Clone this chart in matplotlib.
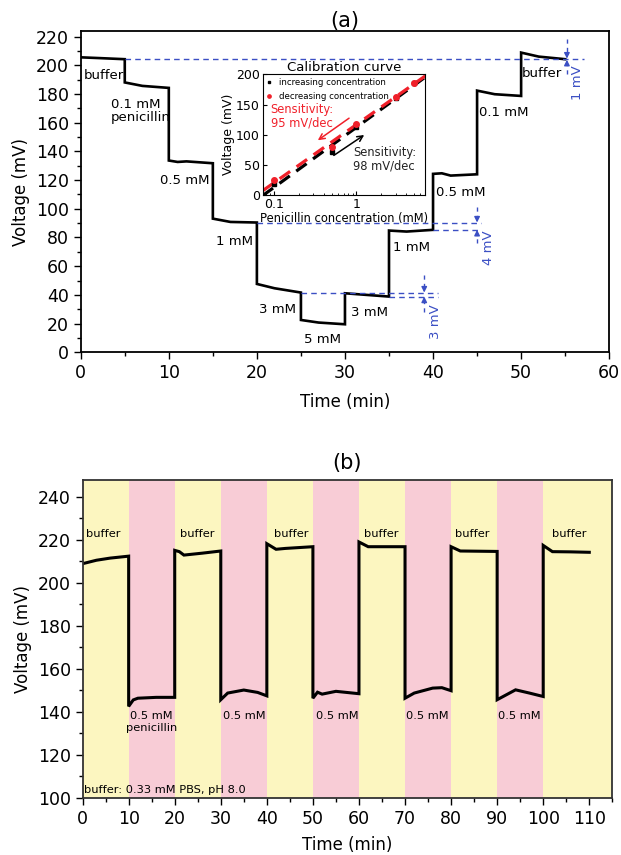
import numpy as np
import matplotlib
matplotlib.use("Agg")
import matplotlib.pyplot as plt
from matplotlib.ticker import MultipleLocator, FixedLocator, LogLocator, NullFormatter

plt.rcParams['font.family'] = ['DejaVu Sans']

# ---- panel (a): stepwise response ----
time_a = [0, 2, 5, 5, 7, 10, 10, 11, 12, 15, 15, 17, 20, 20, 22, 25, 25, 27, 30,
          30, 35, 35, 37, 40, 40, 41, 42, 45, 45, 47, 50, 50, 52, 55]
volt_a = [205.5, 205, 204.2, 188, 185.6, 184.2, 133.6, 132.6, 133, 131.7, 93.1, 90.8, 90.4,
          47.6, 44.6, 41.6, 22.5, 20.7, 19.5, 41.1, 38.8, 84.8, 84.1, 85.3, 124.3, 124.7,
          123.1, 124, 182.3, 179.8, 178.6, 208.8, 206, 204.2]

step_labels = ["buffer", "0.1 mM\npenicillin", "0.5 mM", "1 mM", "3 mM", "5 mM",
               "3 mM", "1 mM", "0.5 mM", "0.1 mM", "buffer"]
label_x = [0.3, 3.4, 11.8, 17.5, 22.3, 27.5, 32.8, 37.6, 43.1, 48.0, 52.4]
label_y = [192.5, 168, 120, 77, 29.5, 8.6, 28, 73, 111.5, 167, 194]
label_ha = ["left", "left"] + ["center"] * 9

# drift reference levels: (level, x start, x end)
ref_levels = [204.2, 90.4, 85.3, 41.6, 38.8]
ref_start = [5, 20, 40, 25, 35]
ref_end = [57.1, 45.4, 45.4, 40.6, 40.6]

# drift markers: x position, upper line, lower line, arrow tails, label
drift_x = [55.2, 45.0, 39.0]
drift_hi = [204.6, 90.4, 41.6]
drift_lo = [203.8, 85.3, 38.8]
drift_top = [218, 101, 54]
drift_bot = [194, 76, 28]
drift_text = ["1 mV", "4 mV", "3 mV"]
drift_text_x = [56.4, 46.3, 40.3]
drift_text_y = [188, 73, 21]

# ---- inset: calibration curve ----
conc = [0.1, 0.5, 1, 3, 5]
v_increasing = [18, 72, 113, 160, 185]
v_decreasing = [24, 80, 118, 163, 186]

# ---- panel (b): repeated exposure ----
time_b = [0, 3, 6, 10, 10, 11, 12, 16, 20, 20, 21, 22, 26, 30, 30, 31.5, 35, 38, 40,
          40, 42, 44, 50, 50, 51, 52, 55, 60, 60, 62, 70, 70, 72, 76, 78, 80,
          80, 82, 90, 90, 92, 94, 97, 100, 100, 102, 106, 110]
volt_b = [208.9, 210.5, 211.5, 212.4, 142.5, 145.5, 146.3, 146.7, 146.7, 215.1, 214.5,
          212.9, 213.8, 214.8, 145.6, 148.7, 150.1, 149, 147.4, 218.2, 215.6, 216, 216.8,
          146.3, 149.1, 148.2, 149.5, 148.4, 219, 216.8, 216.8, 146.3, 148.7, 151, 151.2,
          149.8, 216.8, 214.8, 214.6, 145.6, 147.9, 150.2, 148.7, 147.1, 217.4, 214.5,
          214.4, 214.2]
phase_edges = [0, 10, 20, 30, 40, 50, 60, 70, 80, 90, 100, 115]
buffer_x = [4.5, 25, 45.4, 64.8, 84.7, 105.6]
pen_x = [15, 35.1, 55.3, 74.8, 94.8]

blue = '#3b4fc4'
yellow = '#fcf6c0'
pink = '#f8ccd6'

fig = plt.figure(figsize=(6.21, 8.55), dpi=100)

# ================= (a) =================
ax = fig.add_axes([0.130, 0.588, 0.851, 0.376])
ax.plot(time_a, volt_a, color='black', lw=1.9, solid_joinstyle='miter')
for lev, xs, xe in zip(ref_levels, ref_start, ref_end):
    ax.plot([xs, xe], [lev, lev], color=blue, lw=1.0, ls=(0, (4, 3)))
for x, hi, lo, top, bot in zip(drift_x, drift_hi, drift_lo, drift_top, drift_bot):
    ax.plot([x, x], [top, hi + 3], color=blue, lw=1.0, ls=(0, (3, 3)))
    ax.plot([x, x], [bot, lo - 3], color=blue, lw=1.0, ls=(0, (3, 3)))
    ax.annotate('', xy=(x, hi), xytext=(x, hi + 4),
                arrowprops=dict(arrowstyle='-|>', color=blue, lw=1.0,
                                shrinkA=0, shrinkB=0, mutation_scale=8))
    ax.annotate('', xy=(x, lo), xytext=(x, lo - 4),
                arrowprops=dict(arrowstyle='-|>', color=blue, lw=1.0,
                                shrinkA=0, shrinkB=0, mutation_scale=8))
for t, x, y in zip(drift_text, drift_text_x, drift_text_y):
    ax.text(x, y, t, color=blue, rotation=90, fontsize=9.5, ha='center', va='center')
for s, x, y, ha in zip(step_labels, label_x, label_y, label_ha):
    ax.text(x, y, s, fontsize=9.5, ha=ha, va='center', linespacing=1.05)

ax.set_xlim(0, 60)
ax.set_ylim(0, 224)
ax.xaxis.set_major_locator(MultipleLocator(10))
ax.xaxis.set_minor_locator(MultipleLocator(5))
ax.yaxis.set_major_locator(MultipleLocator(20))
ax.yaxis.set_minor_locator(MultipleLocator(10))
ax.tick_params(which='both', direction='out', labelsize=12.5, width=1.0)
ax.tick_params(which='major', length=5)
ax.tick_params(which='minor', length=3)
for sp in ax.spines.values():
    sp.set_linewidth(1.3)
ax.set_xlabel("Time (min)", fontsize=12, labelpad=8)
ax.set_ylabel("Voltage (mV)", fontsize=12, labelpad=4)
ax.set_title("(a)", fontsize=15, pad=3)

# inset
axi = fig.add_axes([0.423, 0.772, 0.262, 0.141])
logc = np.log10(conc)
k_inc, b_inc = np.polyfit(logc, v_increasing, 1)
k_dec, b_dec = np.polyfit(logc, v_decreasing, 1)
xfit = np.array([0.073, 6.9])
axi.plot(xfit, k_inc * np.log10(xfit) + b_inc, color='black', lw=2.3, ls=(0, (4, 2.5)))
axi.plot(xfit, k_dec * np.log10(xfit) + b_dec, color='#f0202a', lw=2.3, ls=(0, (4, 2.5)))
axi.plot(conc, v_increasing, 's', color='black', ms=3.5, label='increasing concentration')
axi.plot(conc, v_decreasing, 'o', color='#f0202a', ms=4, label='decreasing concentration')
axi.set_xscale('log')
axi.set_xlim(0.073, 6.9)
axi.set_ylim(0, 200)
axi.xaxis.set_major_locator(FixedLocator([0.1, 1]))
axi.set_xticklabels(['0.1', '1'])
axi.xaxis.set_minor_locator(LogLocator(subs=np.arange(2, 10)))
axi.xaxis.set_minor_formatter(NullFormatter())
axi.yaxis.set_major_locator(MultipleLocator(50))
axi.tick_params(which='both', direction='in', labelsize=9, pad=2)
axi.tick_params(which='major', length=3)
axi.tick_params(which='minor', length=1.5)
axi.set_xlabel("Penicillin concentration (mM)", fontsize=8.3, labelpad=1)
axi.set_ylabel("Voltage (mV)", fontsize=9, labelpad=1)
axi.set_title("Calibration curve", fontsize=9.5, pad=1)
axi.legend(loc='upper left', fontsize=6.2, frameon=False, handlelength=0.6,
           handletextpad=0.8, borderaxespad=0.05, labelspacing=0.6, markerscale=0.6)
axi.annotate('', xy=(0.32, 88), xytext=(0.87, 130),
             arrowprops=dict(arrowstyle='->', color='#f0202a', lw=1.1))
axi.annotate('', xy=(1.33, 102), xytext=(0.5, 63),
             arrowprops=dict(arrowstyle='->', color='black', lw=1.1))
axi.text(0.091, 131, "Sensitivity:\n95 mV/dec", color='#f0202a', fontsize=8.3,
         va='center', ha='left', linespacing=1.05)
axi.text(0.91, 59, "Sensitivity:\n98 mV/dec", color='#222222', fontsize=8.3,
         va='center', ha='left', linespacing=1.05)

# ================= (b) =================
bx = fig.add_axes([0.133, 0.067, 0.853, 0.372])
for i in range(len(phase_edges) - 1):
    bx.axvspan(phase_edges[i], phase_edges[i + 1], color=yellow if i % 2 == 0 else pink,
               lw=0, zorder=0)
bx.plot(time_b, volt_b, color='black', lw=2.2, solid_joinstyle='miter', zorder=2)
for x in buffer_x:
    bx.text(x, 222.5, "buffer", fontsize=8.2, ha='center', va='center')
for i, x in enumerate(pen_x):
    bx.text(x, 137.8, "0.5 mM", fontsize=8.2, ha='center', va='center')
bx.text(15, 132.6, "penicillin", fontsize=8.2, ha='center', va='center')
bx.text(0.4, 103.5, "buffer: 0.33 mM PBS, pH 8.0", fontsize=8.2, ha='left', va='center')

bx.set_xlim(0, 115)
bx.set_ylim(100, 248)
bx.xaxis.set_major_locator(MultipleLocator(10))
bx.xaxis.set_minor_locator(MultipleLocator(5))
bx.yaxis.set_major_locator(MultipleLocator(20))
bx.yaxis.set_minor_locator(MultipleLocator(10))
bx.tick_params(which='both', direction='out', labelsize=12.5, width=1.0)
bx.tick_params(which='major', length=5)
bx.tick_params(which='minor', length=3)
for sp in bx.spines.values():
    sp.set_linewidth(1.3)
    sp.set_color('#333333')
bx.set_xlabel("Time (min)", fontsize=12, labelpad=6)
bx.set_ylabel("Voltage (mV)", fontsize=12, labelpad=4)
bx.set_title("(b)", fontsize=15, pad=8)

fig.savefig("out.png", dpi=100)
